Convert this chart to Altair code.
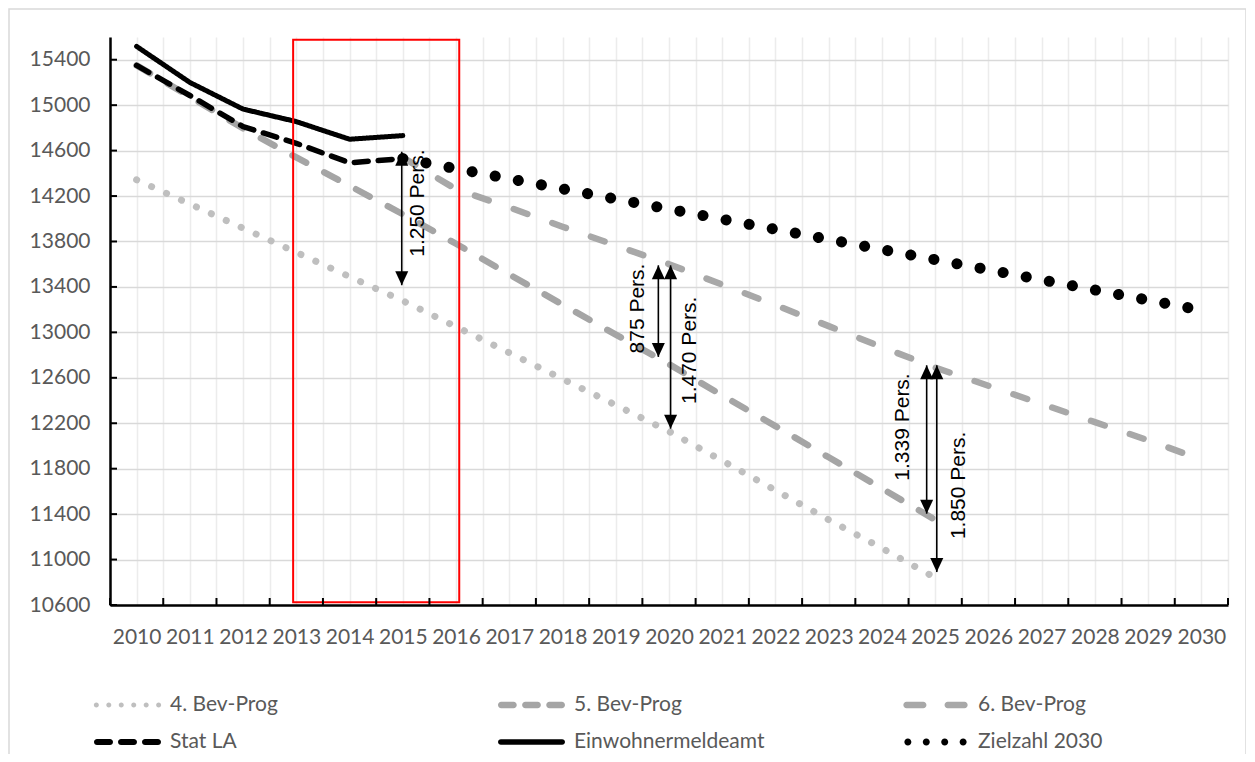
import altair as alt
import pandas as pd

# ---------------- data ----------------
series_names = ["4. Bev-Prog", "5. Bev-Prog", "6. Bev-Prog",
                "Stat LA", "Einwohnermeldeamt", "Zielzahl 2030"]

bev4_years = list(range(2010, 2026))
bev4 = [14343, 14130, 13917, 13704, 13490, 13278, 13050, 12820,
        12590, 12360, 12128, 11870, 11610, 11350, 11100, 10840]

bev5_years = list(range(2010, 2026))
bev5 = [15350, 15075, 14795, 14540, 14290, 14040, 13780, 13510,
        13245, 12980, 12720, 12445, 12175, 11900, 11625, 11350]

bev6_years = list(range(2015, 2031))
bev6 = [14540, 14260, 14100, 13930, 13765, 13600, 13420, 13240,
        13055, 12870, 12690, 12530, 12370, 12210, 12050, 11880]

statla_years = list(range(2010, 2016))
statla = [15350, 15085, 14811, 14664, 14493, 14530]

ewma_years = list(range(2010, 2016))
ewma = [15517, 15200, 14965, 14855, 14700, 14732]

ziel_years = list(range(2015, 2031))
ziel = [14530, 14441, 14352, 14263, 14174, 14085, 13996, 13907,
        13818, 13729, 13640, 13551, 13462, 13373, 13284, 13195]

series_colors = ["#bfbfbf", "#a5a5a5", "#a8a8a8", "#000000", "#000000", "#000000"]
series_dash = [[0.1, 16.3], [15.5, 20.5], [14.5, 26.5], [14, 10], [1, 0], [0.1, 23.4]]
series_width = [7, 6.5, 6.5, 5.5, 5, 11]

# legend entries are filled column by column (2 rows x 3 columns)
legend_order = ["4. Bev-Prog", "Stat LA", "5. Bev-Prog",
                "Einwohnermeldeamt", "6. Bev-Prog", "Zielzahl 2030"]

y_ticks = [10600, 11000, 11400, 11800, 12200, 12600, 13000, 13400,
           13800, 14200, 14600, 15000, 15400]
y_domain = [10600, 15600]
x_domain = [2009.5, 2030.5]
x_grid = [2009.5 + 0.5 * i for i in range(43)]
x_bounds = [2009.5 + i for i in range(22)]

arrow_x = [2014.98, 2019.80, 2020.03, 2024.84, 2025.03]
arrow_top = [14590, 13590, 13590, 12710, 12710]
arrow_bottom = [13415, 12784, 12152, 11404, 10890]

label_text = ["1.250 Pers.", "875 Pers.", "1.470 Pers.", "1.339 Pers.", "1.850 Pers."]
label_x = [2015.29, 2019.42, 2020.39, 2024.40, 2025.45]
label_y = [14138, 13210, 12842, 12167, 11653]

box_x = [2012.94]
box_x2 = [2016.06]
box_y = [10625]
box_y2 = [15575]


# ---------------- legend symbol shapes (unit box -1..1) ----------------
def rdash(x1, x2, h):
    a, b = x1 + h, x2 - h
    return (f"M{a:.3f},{-h:.3f}L{b:.3f},{-h:.3f}A{h:.3f},{h:.3f} 0 0 1 {b:.3f},{h:.3f}"
            f"L{a:.3f},{h:.3f}A{h:.3f},{h:.3f} 0 0 1 {a:.3f},{-h:.3f}Z")


def dot(cx, r):
    return (f"M{cx - r:.3f},0A{r:.3f},{r:.3f} 0 1 0 {cx + r:.3f},0"
            f"A{r:.3f},{r:.3f} 0 1 0 {cx - r:.3f},0Z")


legend_shapes = {
    "4. Bev-Prog": "".join(dot(c, 0.075) for c in [-0.93, -0.558, -0.186, 0.186, 0.558, 0.93]),
    "5. Bev-Prog": "".join(rdash(a, b, 0.095) for a, b in [(-1, -0.44), (-0.28, 0.28), (0.44, 1)]),
    "6. Bev-Prog": "".join(rdash(a, b, 0.095) for a, b in [(-0.96, -0.27), (0.27, 0.96)]),
    "Stat LA": "".join(rdash(a, b, 0.09) for a, b in [(-1, -0.433), (-0.283, 0.283), (0.433, 1)]),
    "Einwohnermeldeamt": rdash(-1, 1, 0.085),
    "Zielzahl 2030": "".join(dot(c, 0.105) for c in [-0.825, -0.275, 0.275, 0.825]),
}

# ---------------- tables ----------------
rows = []
for name, yrs, vals in [
    (series_names[0], bev4_years, bev4),
    (series_names[1], bev5_years, bev5),
    (series_names[2], bev6_years, bev6),
    (series_names[3], statla_years, statla),
    (series_names[4], ewma_years, ewma),
    (series_names[5], ziel_years, ziel),
]:
    for yr, v in zip(yrs, vals):
        rows.append({"series": name, "year": yr, "value": v})
lines_df = pd.DataFrame(rows)

arrows_df = pd.DataFrame({"x": arrow_x, "top": arrow_top, "bottom": arrow_bottom})
labels_df = pd.DataFrame({"x": label_x, "y": label_y, "text": label_text})
box_df = pd.DataFrame({"x": box_x, "x2": box_x2, "y": box_y, "y2": box_y2})
ytick_df = pd.DataFrame({"v": y_ticks})
xtick_df = pd.DataFrame({"v": x_bounds})

col_of = dict(zip(series_names, series_colors))

# ---------------- scales / axes ----------------
FONT = "Lato"
TXT = "#595959"
xscale = alt.Scale(domain=x_domain, nice=False, zero=False)
yscale = alt.Scale(domain=y_domain, nice=False, zero=False)

xax = alt.Axis(values=x_grid, grid=True, gridColor="#ececec", gridWidth=1.5,
               ticks=False, tickSize=0,
               labelExpr="datum.value % 1 == 0 ? toString(datum.value) : ''",
               labelOverlap=False, labelFlush=False, labelBound=False,
               labelFont=FONT, labelFontSize=21, labelColor=TXT, labelPadding=21,
               domainColor="#000000", domainWidth=2.5, title=None)
yax = alt.Axis(values=y_ticks, grid=True, gridColor="#d9d9d9", gridWidth=1.5,
               ticks=False, tickSize=0, format="d", labelFlush=False,
               labelFont=FONT, labelFontSize=21, labelColor=TXT, labelPadding=20,
               domainColor="#000000", domainWidth=2.5, title=None)

leg = alt.Legend(title=None, orient="none", legendX=-17, legendY=657, columns=3,
                 symbolSize=4489, symbolOpacity=1,
                 labelFont=FONT, labelFontSize=21, labelColor=TXT, labelOffset=8,
                 columnPadding=136, rowPadding=15, gridAlign="all",
                 clipHeight=22, labelLimit=400, padding=0)

X = lambda f: alt.X(f, scale=xscale, axis=xax)
Y = lambda f: alt.Y(f, scale=yscale, axis=yax)

# ---------------- layers ----------------
frame = alt.Chart(pd.DataFrame({"a": [0]})).mark_rect(
    fillOpacity=0, stroke="#d9d9d9", strokeWidth=1.5
).encode(x=alt.value(-101), x2=alt.value(1136), y=alt.value(-28), y2=alt.value(800))

lines = alt.Chart(lines_df).mark_line(strokeCap="round", strokeJoin="round").encode(
    x=X("year:Q"),
    y=Y("value:Q"),
    color=alt.Color("series:N", legend=None, scale=alt.Scale(
        domain=series_names, range=series_colors)),
    strokeDash=alt.StrokeDash("series:N", legend=None, scale=alt.Scale(
        type="ordinal", domain=series_names, range=series_dash)),
    strokeWidth=alt.StrokeWidth("series:N", legend=None, scale=alt.Scale(
        type="ordinal", domain=series_names, range=series_width)),
)

# points of size 0 that only carry the legend
legend_pts = alt.Chart(lines_df).mark_point(filled=True, size=0, strokeWidth=0).encode(
    x=X("year:Q"),
    y=Y("value:Q"),
    fill=alt.Fill("series:N", legend=leg, scale=alt.Scale(
        domain=legend_order, range=[col_of[s] for s in legend_order])),
    shape=alt.Shape("series:N", legend=leg, scale=alt.Scale(
        domain=legend_order, range=[legend_shapes[s] for s in legend_order])),
)

box = alt.Chart(box_df).mark_rect(fillOpacity=0, stroke="#ff0000", strokeWidth=2).encode(
    x=X("x:Q"), x2="x2:Q", y=Y("y:Q"), y2="y2:Q"
)

yticks = alt.Chart(ytick_df).mark_rule(color="#000000", strokeWidth=2).encode(
    y=Y("v:Q"), x=alt.value(0), x2=alt.value(7)
)
xticks = alt.Chart(xtick_df).mark_rule(color="#000000", strokeWidth=2).encode(
    x=X("v:Q"), y=alt.value(568), y2=alt.value(561)
)

shafts = alt.Chart(arrows_df).mark_rule(color="#000000", strokeWidth=1.6).encode(
    x=X("x:Q"), y=Y("top:Q"), y2="bottom:Q"
)
heads_up = alt.Chart(arrows_df).mark_point(
    shape="M0,0L0.93,2L-0.93,2Z", filled=True, size=196, color="#000000", opacity=1
).encode(x=X("x:Q"), y=Y("top:Q"))
heads_down = alt.Chart(arrows_df).mark_point(
    shape="M0,0L0.93,-2L-0.93,-2Z", filled=True, size=196, color="#000000", opacity=1
).encode(x=X("x:Q"), y=Y("bottom:Q"))

texts = alt.Chart(labels_df).mark_text(
    angle=270, font="Liberation Sans", fontSize=21, color="#000000",
    align="center", baseline="middle"
).encode(x=X("x:Q"), y=Y("y:Q"), text="text:N")

chart = alt.layer(
    frame, lines, legend_pts, box, yticks, xticks, shafts, heads_up, heads_down, texts
).properties(
    width=1118, height=568,
    padding={"left": 102, "top": 29, "right": 18, "bottom": 149},
    autosize=alt.AutoSizeParams(type="none"),
    background="#ffffff",
).configure_view(strokeWidth=0)

chart.save("out.html", embed_options={"renderer": "svg", "actions": False})
